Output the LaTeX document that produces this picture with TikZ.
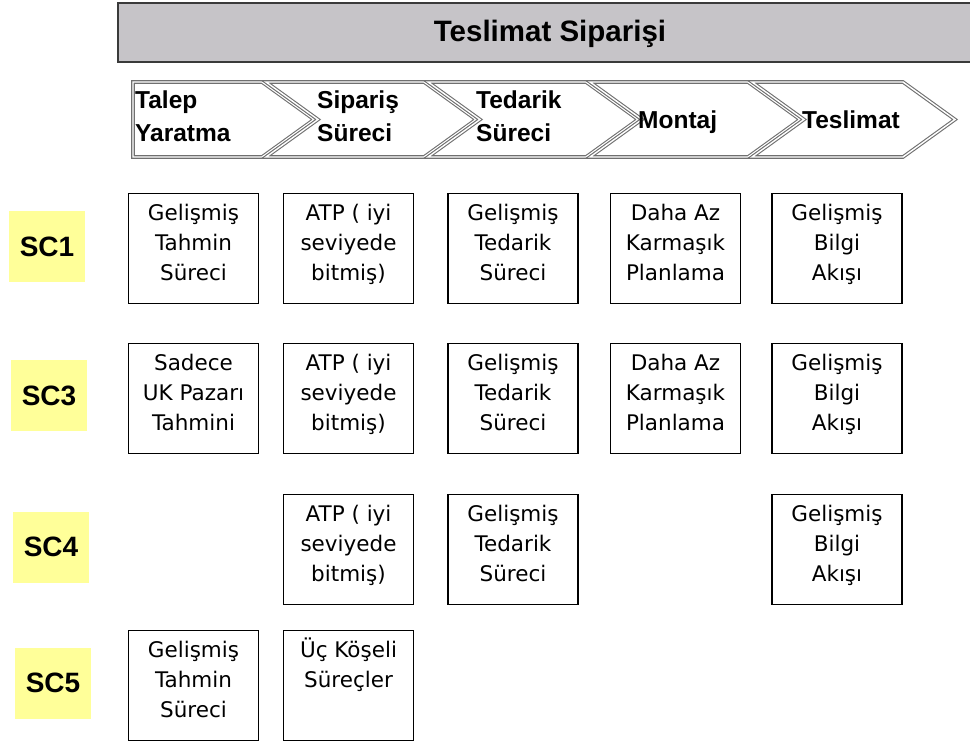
\documentclass[tikz,border=0pt]{standalone}
\usepackage{fontspec}
\setmainfont{Liberation Sans}
\newfontfamily\cellfont{DejaVu Sans}
\definecolor{scyellow}{HTML}{FFFF99}
\definecolor{chevgray}{HTML}{707070}
\definecolor{headgray}{HTML}{C6C4C8}
\definecolor{headborder}{HTML}{3A3A3A}
\begin{document}
\begin{tikzpicture}[x=1pt,y=-1pt,
  cell/.style={draw=black, line width=1.3pt, fill=white, minimum width=130pt,
    minimum height=110pt, inner sep=0pt, anchor=north},
  celltext/.style={anchor=north, inner sep=0pt, align=center,
    font=\cellfont\fontsize{21.5}{30}\selectfont},
  sclabel/.style={fill=scyellow, minimum width=76pt, minimum height=71pt,
    inner sep=0pt, font=\bfseries\fontsize{28}{30}\selectfont},
  chev/.style={draw=chevgray, line width=1.1pt, double=white,
    double distance=1.4pt, fill=white, line join=miter},
  chevtext/.style={anchor=north west, inner sep=0pt, align=left,
    font=\bfseries\fontsize{24.5}{33}\selectfont},
  headbar/.style={draw=headborder, fill=headgray, line width=2pt,
    minimum width=873pt, minimum height=59pt, inner sep=0pt, anchor=north west},
]
\useasboundingbox (0,0) rectangle (970,742);

% title bar
\node[headbar] (head) at (117,2) {};
\node[inner sep=0pt, anchor=base, font=\bfseries\fontsize{29.5}{32}\selectfont]
  (title) at (550,41.5) {Teslimat Siparişi};

% process chevrons
\draw[chev] (133,82) -- (262,82) -- (314,119.5) -- (262,157) -- (133,157) -- cycle;
\foreach \l/\r in {266/424, 428/586, 590/748, 752/903}{
  \draw[chev] (\l,82) -- (\r,82) -- (\r+52,119.5) -- (\r,157) -- (\l,157)
    -- (\l+52,119.5) -- cycle;
}
\node[chevtext] (h1) at (135,90) {\rule{0pt}{18pt}Talep\\Yaratma};
\node[chevtext] (h2) at (317,90) {\rule{0pt}{18pt}Sipariş\\Süreci};
\node[chevtext] (h3) at (476,90) {\rule{0pt}{18pt}Tedarik\\Süreci};
\node[chevtext] (h4) at (638,110) {\rule{0pt}{18pt}Montaj};
\node[chevtext] (h5) at (802,110) {\rule{0pt}{18pt}Teslimat};

% scenario labels
\node[sclabel] (sc1) at (47,246.5) {SC1};
\node[sclabel] (sc3) at (49,395.5) {SC3};
\node[sclabel] (sc4) at (51,547) {SC4};
\node[sclabel] (sc5) at (53,683) {SC5};

% row SC1
\node[cell] (a1) at (193.5,193) {};
\node[cell] (a2) at (348.5,193) {};
\node[cell] (a3) at (513,193) {};
\node[cell] (a4) at (675.5,193) {};
\node[cell] (a5) at (837,193) {};
\node[celltext] (ta1) at ([yshift=-7pt]a1.north) {\rule{0pt}{20pt}Gelişmiş\\Tahmin\\Süreci};
\node[celltext] (ta2) at ([yshift=-7pt]a2.north) {\rule{0pt}{20pt}ATP ( iyi\\seviyede\\bitmiş)};
\node[celltext] (ta3) at ([yshift=-7pt]a3.north) {\rule{0pt}{20pt}Gelişmiş\\Tedarik\\Süreci};
\node[celltext] (ta4) at ([yshift=-7pt]a4.north) {\rule{0pt}{20pt}Daha Az\\Karmaşık\\Planlama};
\node[celltext] (ta5) at ([yshift=-7pt]a5.north) {\rule{0pt}{20pt}Gelişmiş\\Bilgi\\Akışı};

% row SC3
\node[cell] (b1) at (193.5,343) {};
\node[cell] (b2) at (348.5,343) {};
\node[cell] (b3) at (513,343) {};
\node[cell] (b4) at (675.5,343) {};
\node[cell] (b5) at (837,343) {};
\node[celltext] (tb1) at ([yshift=-7pt]b1.north) {\rule{0pt}{20pt}Sadece\\UK Pazarı\\Tahmini};
\node[celltext] (tb2) at ([yshift=-7pt]b2.north) {\rule{0pt}{20pt}ATP ( iyi\\seviyede\\bitmiş)};
\node[celltext] (tb3) at ([yshift=-7pt]b3.north) {\rule{0pt}{20pt}Gelişmiş\\Tedarik\\Süreci};
\node[celltext] (tb4) at ([yshift=-7pt]b4.north) {\rule{0pt}{20pt}Daha Az\\Karmaşık\\Planlama};
\node[celltext] (tb5) at ([yshift=-7pt]b5.north) {\rule{0pt}{20pt}Gelişmiş\\Bilgi\\Akışı};

% row SC4
\node[cell] (c2) at (348.5,494) {};
\node[cell] (c3) at (513,494) {};
\node[cell] (c5) at (837,494) {};
\node[celltext] (tc2) at ([yshift=-7pt]c2.north) {\rule{0pt}{20pt}ATP ( iyi\\seviyede\\bitmiş)};
\node[celltext] (tc3) at ([yshift=-7pt]c3.north) {\rule{0pt}{20pt}Gelişmiş\\Tedarik\\Süreci};
\node[celltext] (tc5) at ([yshift=-7pt]c5.north) {\rule{0pt}{20pt}Gelişmiş\\Bilgi\\Akışı};

% row SC5
\node[cell] (d1) at (193.5,630) {};
\node[cell] (d2) at (348.5,630) {};
\node[celltext] (td1) at ([yshift=-7pt]d1.north) {\rule{0pt}{20pt}Gelişmiş\\Tahmin\\Süreci};
\node[celltext] (td2) at ([yshift=-7pt]d2.north) {\rule{0pt}{20pt}Üç Köşeli\\Süreçler};
\end{tikzpicture}
\end{document}
